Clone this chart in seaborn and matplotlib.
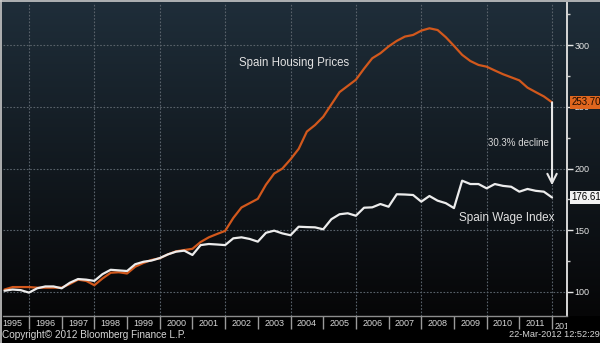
import numpy as np
import pandas as pd
import matplotlib
matplotlib.use("Agg")
import matplotlib.pyplot as plt
from matplotlib.lines import Line2D
from matplotlib.transforms import Bbox, TransformedBbox, blended_transform_factory
import seaborn as sns

# Quarterly index levels, 1995Q1 .. 2011Q4 (1995Q1 ~ 100)
quarters = pd.period_range("1995Q1", "2011Q4", freq="Q")
housing = [102, 104, 104, 104, 103.5, 103.5, 103.5, 103.5,
           106.5, 110, 109, 105.5, 111, 115.6, 116, 115,
           120.5, 123.5, 126, 127.3, 130.5, 133, 134, 135,
           140.5, 144.3, 147, 149.5, 160, 168.5, 172, 175.5,
           187, 196, 200, 207.5, 216, 230, 235.3, 242,
           252, 262, 267, 272, 281, 289.4, 293.5, 299,
           303.5, 307, 308.3, 311.8, 313.7, 312.3, 306.5, 299.5,
           292.2, 287.2, 284, 282.6, 279.5, 276.5, 274, 271.5,
           265.6, 262, 258.5, 253.70]
wages = [101, 102, 101.5, 99.5, 103, 104.5, 104.5, 103,
         107.5, 110.5, 110, 109, 114.5, 118, 117.5, 117,
         122.5, 124.5, 125.5, 127.5, 130.5, 132.7, 133.5, 130,
         138, 138.9, 138.5, 138, 143.5, 144.3, 143, 140.8,
         148, 149.7, 147.5, 146, 152.9, 152.6, 152.4, 150.8,
         159, 163, 163.8, 161.8, 168.3, 168.6, 171.3, 169.1,
         179.2, 179, 178.6, 173.2, 177.8, 174, 172, 168,
         190.2, 187.5, 187.5, 184, 187.5, 186, 185.3, 181.3,
         183.5, 182, 181.3, 176.61]
series_names = ["Spain Housing Prices", "Spain Wage Index"]
series_colors = {"Spain Housing Prices": "#d2581c", "Spain Wage Index": "#ececec"}
year_labels = [str(y) for y in range(1995, 2013)]
y_ticks = [100, 150, 200, 250, 300]
y_minor = [125, 175, 225, 275, 325]
decline_text = "30.3% decline"

# quarter-end positions in decimal years
t = np.array([q.year + q.quarter / 4.0 for q in quarters])
df = pd.DataFrame({
    "t": np.concatenate([t, t]),
    "value": housing + wages,
    "series": [series_names[0]] * len(t) + [series_names[1]] * len(t),
})

sns.set_theme(style="dark")
plt.rcParams["font.family"] = ["Liberation Sans Narrow", "Liberation Sans", "DejaVu Sans"]

W, H = 600, 343
fig = plt.figure(figsize=(W / 100, H / 100), dpi=100)
fig.patch.set_facecolor("black")

# background gradient (dark slate at the top fading to black)
bg = fig.add_axes([0, 0, 1, 1], zorder=0)
rows = np.arange(H)
g = np.clip(rows / 316.0, 0, 1)[:, None]
top = np.array([31, 46, 58]) / 255
bot = np.array([6, 6, 7]) / 255
img = top[None, :] * (1 - g) + bot[None, :] * g
img = np.repeat(img[:, None, :], 4, axis=1)
img[316:, :, :] = 0.0
bg.imshow(img, aspect="auto", extent=[0, 1, 0, 1], interpolation="bilinear")
bg.set_axis_off()

ax = fig.add_axes([3 / W, 1 - 316 / H, 564 / W, 313 / H], zorder=1)
ax.set_facecolor("none")

for yv in y_ticks:
    ax.axhline(yv, color="#59626b", lw=0.8, ls=(0, (1.5, 1.5)), zorder=1)
for yr in range(1996, 2013, 2):
    ax.axvline(yr, color="#59626b", lw=0.8, ls=(0, (1.5, 1.5)), zorder=1)

sns.lineplot(data=df, x="t", y="value", hue="series", hue_order=series_names,
             palette=series_colors, lw=1.6, legend=False, ax=ax, zorder=3)

ax.set_xlim(1995.205, 2012.458)
ax.set_ylim(80.55, 334.2)
ax.set_xlabel("")
ax.set_ylabel("")

# spines
for s in ["left", "top"]:
    ax.spines[s].set_visible(False)
ax.spines["right"].set_color("#d8d8d8")
ax.spines["right"].set_linewidth(1.4)
ax.spines["bottom"].set_color("#8c8c8c")
ax.spines["bottom"].set_linewidth(1.0)

# right y axis
ax.yaxis.tick_right()
ax.set_yticks(y_ticks)
ax.set_yticks(y_minor, minor=True)
ax.tick_params(axis="y", which="major", direction="out", length=4, width=1,
               color="#e6e6e6", labelcolor="#e6e6e6", labelsize=6.5, pad=1.5,
               left=False, right=True)
ax.tick_params(axis="y", which="minor", direction="out", length=2.5, width=1,
               color="#cfcfcf", left=False, right=True)

# x axis: separators at year boundaries, labels centred within each year
ax.set_xticks(range(1996, 2013))
ax.set_xticklabels([])
ax.set_xticks([int(y) + 0.5 for y in year_labels[:-1]], year_labels[:-1], minor=True)
ax.tick_params(axis="x", which="major", direction="out", length=9, width=1,
               color="#9a9a9a", bottom=True)
ax.tick_params(axis="x", which="minor", length=0, labelsize=6.5,
               labelcolor="#d6d6d6", pad=2.0, bottom=True)

trans_xa = blended_transform_factory(ax.transData, ax.transAxes)
clip = TransformedBbox(Bbox([[0, 0], [567 / W, 1]]), fig.transFigure)
last = ax.text(2012.38, -0.0207, year_labels[-1], transform=trans_xa, ha="center",
               va="top", fontsize=6.5, color="#d6d6d6", clip_on=True)
last.set_clip_box(clip)

# series labels
ax.text(2004.1, 285.8, series_names[0], color="#e2e2e2", fontsize=8.3,
        ha="center", va="center", zorder=4)
ax.text(2010.62, 160.0, series_names[1], color="#e2e2e2", fontsize=8.5,
        ha="center", va="center", zorder=4)

# decline arrow from the last housing value down to the wage level
x_end = t[-1]
ax.annotate("", xy=(x_end, 186.5), xytext=(x_end, housing[-1]),
            arrowprops=dict(arrowstyle="->,head_length=0.55,head_width=0.28",
                            color="#e6e6e6", lw=1.5, shrinkA=0, shrinkB=0),
            zorder=4)
ax.text(2010.96, 220.7, decline_text, color="#d8d8d8", fontsize=7,
        ha="center", va="center", zorder=4)

# last-value tags on the right axis
trans_ay = blended_transform_factory(ax.transAxes, ax.transData)
ax.text(1.0075, housing[-1], f"{housing[-1]:.2f}", transform=trans_ay,
        ha="left", va="center", fontsize=7, color="#1a0a00", zorder=6,
        bbox=dict(boxstyle="square,pad=0.12", fc="#e0661e", ec="none"))
ax.text(1.0075, wages[-1], f"{wages[-1]:.2f}", transform=trans_ay,
        ha="left", va="center", fontsize=7, color="#000000", zorder=6,
        bbox=dict(boxstyle="square,pad=0.12", fc="#f2f2f2", ec="none"))

# footer
fig.text(2 / W, 1 - 334.5 / H, "Copyright\u00a9 2012 Bloomberg Finance L.P.",
         fontsize=7.2, color="#d6d6d6", ha="left", va="center")
fig.text(1.0, 1 - 334.5 / H, "22-Mar-2012 12:52:29",
         fontsize=6.6, color="#d6d6d6", ha="right", va="center")

# thin light frame on the top and left edges
fig.add_artist(Line2D([0, 1], [1 - 0.5 / H, 1 - 0.5 / H], color="#c8c8c8", lw=1.2))
fig.add_artist(Line2D([0.5 / W, 0.5 / W], [0, 1], color="#c8c8c8", lw=1.2))

fig.savefig("out.png", dpi=100, facecolor=fig.get_facecolor())
